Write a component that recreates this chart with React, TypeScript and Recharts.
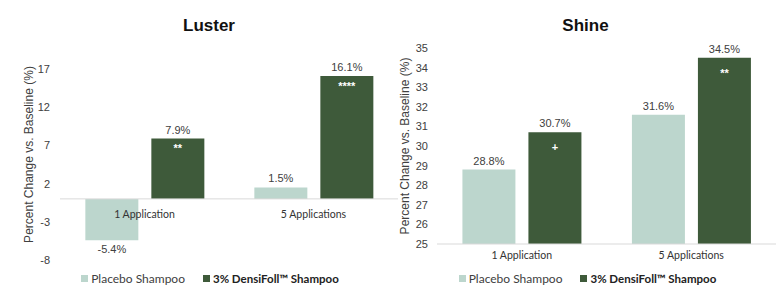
import {
  BarChart,
  Bar,
  XAxis,
  YAxis,
  Legend,
  LabelList,
  ReferenceLine,
} from "recharts";

const categories = ["1 Application", "5 Applications"];
const seriesNames = ["Placebo Shampoo", "3% DensiFoll\u2122 Shampoo"];

const lusterPlacebo = [-5.4, 1.5];
const lusterDensi = [7.9, 16.1];
const lusterSig = ["**", "****"];
const lusterTicks = [-8, -3, 2, 7, 12, 17];

const shinePlacebo = [28.8, 31.6];
const shineDensi = [30.7, 34.5];
const shineSig = ["+", "**"];
const shineTicks = [25, 26, 27, 28, 29, 30, 31, 32, 33, 34, 35];

const LIGHT = "#bcd6cd";
const DARK = "#3e5a3a";
const TEXT = "#404040";
const AXIS = "#d9d9d9";
const LABEL_FONT = "'Liberation Sans', Arial, sans-serif";
const CAT_FONT = "Lato, 'Noto Sans', sans-serif";

const lusterData = categories.map((c, i) => ({
  category: c,
  placebo: lusterPlacebo[i],
  densi: lusterDensi[i],
  sig: lusterSig[i],
}));

const shineData = categories.map((c, i) => ({
  category: c,
  placebo: shinePlacebo[i],
  densi: shineDensi[i],
  sig: shineSig[i],
}));

const fmt = (v: any) => `${Number(v).toFixed(1)}%`;

function LegendBox() {
  return (
    <div
      style={{
        height: 14,
        display: "flex",
        justifyContent: "center",
        alignItems: "center",
        fontFamily: CAT_FONT,
        fontSize: 12,
        color: TEXT,
      }}
    >
      <span style={{ width: 7, height: 7, background: LIGHT, marginRight: 3 }} />
      <span style={{ marginRight: 18 }}>{seriesNames[0]}</span>
      <span style={{ width: 7, height: 7, background: DARK, marginRight: 3 }} />
      <span style={{ fontWeight: 700, fontSize: 11.5, color: "#222" }}>{seriesNames[1]}</span>
    </div>
  );
}

function YTitle(props: any, dx: number, dyShift: number) {
  const vb = props.viewBox || {};
  const x = (vb.x || 0) + dx;
  const y = (vb.y || 0) + (vb.height || 0) / 2 + dyShift;
  return (
    <text
      x={x}
      y={y}
      transform={`rotate(-90 ${x} ${y})`}
      textAnchor="middle"
      dominantBaseline="central"
      fontFamily={LABEL_FONT}
      fontSize={12}
      fill={TEXT}
    >
      Percent Change vs. Baseline (%)
    </text>
  );
}

function Title({ text, left, width }: { text: string; left: number; width: number }) {
  return (
    <div
      style={{
        position: "absolute",
        left,
        top: 15,
        width,
        textAlign: "center",
        fontFamily: LABEL_FONT,
        fontWeight: 700,
        fontSize: 17,
        lineHeight: "22px",
        color: "#111",
      }}
    >
      {text}
    </div>
  );
}

function LusterChart() {
  return (
    <BarChart
      width={420}
      height={287}
      data={lusterData}
      margin={{ top: 69, right: 22, left: 0, bottom: 2 }}
      barCategoryGap="15%"
      barGap={13}
    >
      <XAxis
        dataKey="category"
        axisLine={false}
        tickLine={false}
        tickSize={0}
        tickMargin={0}
        height={11}
        tick={(p: any) => (
          <text
            x={p.x}
            y={p.y}
            dy={-42}
            textAnchor="middle"
            fontFamily={CAT_FONT}
            fontSize={10.5}
            fill="#333"
          >
            {p.payload.value}
          </text>
        )}
      />
      <YAxis
        domain={[-8, 17]}
        ticks={lusterTicks}
        width={60}
        axisLine={false}
        tickLine={false}
        tickSize={0}
        tickMargin={10}
        tick={{ fontFamily: LABEL_FONT, fontSize: 11, fill: TEXT }}
        label={{ content: (p: any) => YTitle(p, 29, -10) }}
      />
      <ReferenceLine y={0} stroke={AXIS} strokeWidth={1} />
      <Legend
        verticalAlign="bottom"
        wrapperStyle={{ left: 0, width: 420 }}
        content={() => <LegendBox />}
      />
      <Bar dataKey="placebo" fill={LIGHT} isAnimationActive={false}>
        <LabelList
          dataKey="placebo"
          position="top"
          offset={5}
          formatter={fmt}
          style={{ fontFamily: LABEL_FONT, fontSize: 11, fill: TEXT }}
        />
      </Bar>
      <Bar dataKey="densi" fill={DARK} isAnimationActive={false}>
        <LabelList
          dataKey="densi"
          position="top"
          offset={5}
          formatter={fmt}
          style={{ fontFamily: LABEL_FONT, fontSize: 11, fill: TEXT }}
        />
        <LabelList
          dataKey="sig"
          position="insideTop"
          offset={6}
          style={{ fontFamily: LABEL_FONT, fontSize: 11, fill: "#fff", fontWeight: 700 }}
        />
      </Bar>
    </BarChart>
  );
}

function ShineChart() {
  return (
    <BarChart
      width={385}
      height={287}
      data={shineData}
      margin={{ top: 48, right: 4, left: 0, bottom: 2 }}
      barCategoryGap="15%"
      barGap={13}
    >
      <XAxis
        dataKey="category"
        axisLine={{ stroke: AXIS }}
        tickLine={false}
        height={27}
        tick={{ fontFamily: CAT_FONT, fontSize: 10.5, fill: "#333" }}
      />
      <YAxis
        domain={[25, 35]}
        ticks={shineTicks}
        width={42}
        axisLine={false}
        tickLine={false}
        tickSize={0}
        tickMargin={9}
        tick={{ fontFamily: LABEL_FONT, fontSize: 11, fill: TEXT }}
        label={{ content: (p: any) => YTitle(p, 10, 0) }}
      />
      <Legend
        verticalAlign="bottom"
        wrapperStyle={{ left: 0, width: 385 }}
        content={() => <LegendBox />}
      />
      <Bar dataKey="placebo" fill={LIGHT} isAnimationActive={false}>
        <LabelList
          dataKey="placebo"
          position="top"
          offset={5}
          formatter={fmt}
          style={{ fontFamily: LABEL_FONT, fontSize: 11, fill: TEXT }}
        />
      </Bar>
      <Bar dataKey="densi" fill={DARK} isAnimationActive={false}>
        <LabelList
          dataKey="densi"
          position="top"
          offset={5}
          formatter={fmt}
          style={{ fontFamily: LABEL_FONT, fontSize: 11, fill: TEXT }}
        />
        <LabelList
          dataKey="sig"
          position="insideTop"
          offset={11}
          style={{ fontFamily: LABEL_FONT, fontSize: 11, fill: "#fff", fontWeight: 700 }}
        />
      </Bar>
    </BarChart>
  );
}

export default function App() {
  return (
    <div
      style={{
        position: "absolute",
        left: 0,
        top: 0,
        width: 780,
        height: 287,
        background: "#fff",
        overflow: "hidden",
      }}
    >
      <div style={{ position: "absolute", left: 0, top: 0 }}>
        <LusterChart />
      </div>
      <div style={{ position: "absolute", left: 395, top: 0 }}>
        <ShineChart />
      </div>
      <Title text="Luster" left={0} width={418} />
      <Title text="Shine" left={395} width={381} />
    </div>
  );
}
